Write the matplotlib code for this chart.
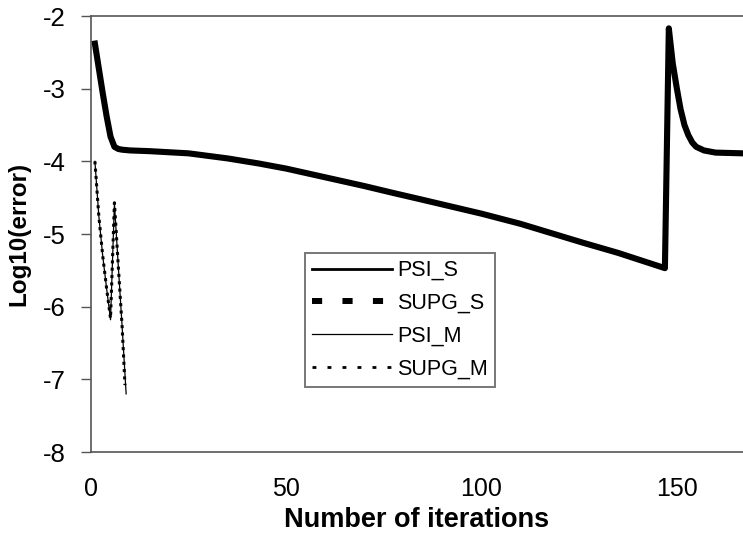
import matplotlib
matplotlib.use("Agg")
import matplotlib.pyplot as plt
from matplotlib.lines import Line2D

plt.rcParams['font.family'] = ['Liberation Sans', 'DejaVu Sans']
plt.rcParams['axes.unicode_minus'] = False

# single-grid runs
iter_s = [1, 2, 3, 4, 5, 6, 7, 8, 10, 15, 25, 35, 43, 50, 60, 70, 77, 85, 100,
          110, 126, 135, 147, 148, 149, 150, 151, 152, 153, 154, 155, 157, 160, 167]
psi_s = [-2.38, -2.72, -3.06, -3.38, -3.66, -3.80, -3.83, -3.84, -3.85, -3.86, -3.89, -3.96,
         -4.03, -4.10, -4.22, -4.34, -4.43, -4.53, -4.72, -4.86, -5.12, -5.26, -5.47,
         -2.17, -2.65, -2.98, -3.28, -3.50, -3.64, -3.74, -3.80, -3.85, -3.88, -3.89]
supg_s = psi_s

# multigrid runs
iter_m = [1, 2, 3, 4, 5, 6, 7, 8, 9]
psi_m = [-4.0, -4.75, -5.3, -5.75, -6.18, -4.58, -5.45, -6.3, -7.2]
iter_m2 = [1, 2, 3, 4, 5, 6, 7, 8, 8.7]
supg_m = [-4.0, -4.75, -5.3, -5.75, -6.16, -4.57, -5.45, -6.3, -7.08]

labels = ['PSI_S', 'SUPG_S', 'PSI_M', 'SUPG_M']

fig = plt.figure(figsize=(7.43, 5.39), dpi=100)
ax = fig.add_axes([91 / 743, 1 - 452 / 539, 1 - 91 / 743, (452 - 16) / 539])

# the two single-grid curves lie on top of each other -> one heavy line
ax.plot(iter_s, supg_s, color='black', lw=4.4, solid_joinstyle='round')
ax.plot(iter_s, psi_s, color='black', lw=2)
ax.plot(iter_m, psi_m, color='black', lw=0.9)
ax.plot(iter_m2, supg_m, color='black', lw=2.2, linestyle=(0, (1, 1.4)))

ax.set_xlim(0, 167)
ax.set_ylim(-8, -2)
ax.set_xticks([0, 50, 100, 150])
ax.set_yticks([-8, -7, -6, -5, -4, -3, -2])
ax.tick_params(axis='x', length=0, pad=18, labelsize=18)
ax.tick_params(axis='y', length=7, width=1, pad=11, labelsize=18.5, color='#555555')
for side in ['left', 'top', 'bottom']:
    ax.spines[side].set_color('#555555')
    ax.spines[side].set_linewidth(1.2)
ax.spines['right'].set_visible(False)

ax.set_xlabel('Number of iterations', fontsize=19.5, fontweight='bold', labelpad=4)
ax.set_ylabel('Log10(error)', fontsize=17.5, fontweight='bold', labelpad=9)

handles = [
    Line2D([], [], color='black', lw=2),
    Line2D([], [], color='black', lw=4.3, linestyle=(0, (1.7, 3.4))),
    Line2D([], [], color='black', lw=0.9),
    Line2D([], [], color='black', lw=2, linestyle=(0, (1.4, 4))),
]
leg = ax.legend(handles, labels, loc='center', bbox_to_anchor=(0.474, 0.303), fontsize=15.5,
                handlelength=3.7, handletextpad=0.25, labelspacing=0.55,
                fancybox=False, framealpha=1, borderpad=0.35, borderaxespad=0)
leg.get_frame().set_edgecolor('#777777')
leg.get_frame().set_linewidth(1.4)

fig.savefig('out.png', dpi=100)
